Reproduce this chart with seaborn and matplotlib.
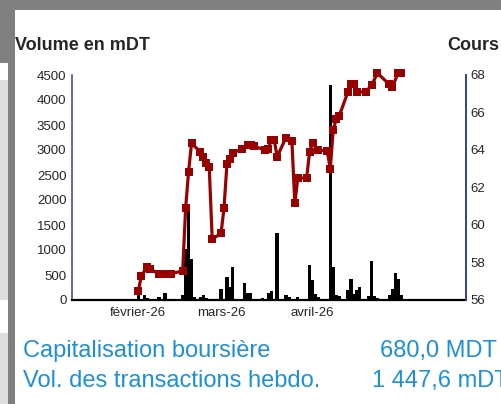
import pandas as pd
import numpy as np
import matplotlib.pyplot as plt
from matplotlib.patches import Rectangle
import seaborn as sns

# Basic configuration
sns.set_style('white')
plt.rcParams['font.family'] = ['Liberation Sans', 'DejaVu Sans']

# --- Data ---
price_dates = ['2026-02-01', '2026-02-02', '2026-02-04', '2026-02-05', '2026-02-08',
               '2026-02-10', '2026-02-12', '2026-02-16', '2026-02-17', '2026-02-18',
               '2026-02-19', '2026-02-22', '2026-02-23', '2026-02-24', '2026-02-25',
               '2026-02-26', '2026-03-01', '2026-03-02', '2026-03-03', '2026-03-04',
               '2026-03-05', '2026-03-08', '2026-03-10', '2026-03-11', '2026-03-12',
               '2026-03-16', '2026-03-17', '2026-03-18', '2026-03-19', '2026-03-20',
               '2026-03-23', '2026-03-25', '2026-03-26', '2026-03-27', '2026-03-30',
               '2026-03-31', '2026-04-01', '2026-04-03', '2026-04-06', '2026-04-07',
               '2026-04-08', '2026-04-09', '2026-04-10', '2026-04-13', '2026-04-14',
               '2026-04-15', '2026-04-16', '2026-04-19', '2026-04-21', '2026-04-23',
               '2026-04-27', '2026-04-28', '2026-04-30', '2026-05-01']
price_values = [56.5, 57.3, 57.75, 57.65, 57.4,
                57.4, 57.4, 57.55, 60.9, 62.85,
                64.35, 63.9, 63.6, 63.3, 63.1,
                59.25, 59.55, 60.9, 63.25, 63.5,
                63.85, 64.05, 64.25, 64.25, 64.2,
                64.0, 64.05, 64.55, 64.55, 63.65,
                64.65, 64.5, 61.15, 62.5, 62.5,
                63.9, 64.35, 64.0, 63.95, 63.0,
                65.05, 65.65, 65.8, 67.1, 67.5,
                67.5, 67.1, 67.1, 67.45, 68.1,
                67.5, 67.35, 68.1, 68.1]

volume_dates = ['2026-02-01', '2026-02-03', '2026-02-04', '2026-02-08', '2026-02-10',
                '2026-02-11', '2026-02-16', '2026-02-17', '2026-02-18', '2026-02-19',
                '2026-02-20', '2026-02-22', '2026-02-23', '2026-02-24', '2026-02-25',
                '2026-03-01', '2026-03-03', '2026-03-04', '2026-03-05', '2026-03-09',
                '2026-03-10', '2026-03-11', '2026-03-15', '2026-03-17', '2026-03-18',
                '2026-03-20', '2026-03-23', '2026-03-24', '2026-03-27', '2026-03-28',
                '2026-03-31', '2026-04-01', '2026-04-02', '2026-04-03', '2026-04-07',
                '2026-04-08', '2026-04-09', '2026-04-10', '2026-04-13', '2026-04-14',
                '2026-04-15', '2026-04-16', '2026-04-17', '2026-04-20', '2026-04-21',
                '2026-04-22', '2026-04-23', '2026-04-27', '2026-04-28', '2026-04-29',
                '2026-04-30', '2026-05-01']
volume_values = [100, 100, 40, 60, 140,
                 20, 100, 1030, 1900, 830,
                 60, 60, 100, 40, 30,
                 220, 460, 270, 660, 340,
                 140, 140, 40, 140, 180,
                 1340, 100, 60, 60, 30,
                 700, 400, 130, 60, 4300,
                 660, 100, 90, 210, 420,
                 130, 200, 260, 80, 780,
                 80, 50, 100, 220, 540,
                 420, 100]

month_ticks = ['2026-02-01', '2026-03-01', '2026-04-01']
month_labels = ['février-26', 'mars-26', 'avril-26']
volume_ticks = [0, 500, 1000, 1500, 2000, 2500, 3000, 3500, 4000, 4500]
price_ticks = [56, 58, 60, 62, 64, 66, 68]

info_labels = ['Capitalisation boursière', 'Vol. des transactions hebdo.']
info_values = ['680,0 MDT', '1 447,6 mDT']

# --- Figure and page frame ---
W, H = 501, 404
fig = plt.figure(figsize=(W / 100, H / 100), dpi=100)
fig.patch.set_facecolor('white')


def px_rect(x0, y0, x1, y1, color):
    fig.add_artist(Rectangle((x0 / W, 1 - y1 / H), (x1 - x0) / W, (y1 - y0) / H,
                             transform=fig.transFigure, color=color, lw=0, zorder=0))


px_rect(0, 0, W, 10, '#808080')
px_rect(0, 0, 15, 63, '#808080')
px_rect(8, 63, 15, H, '#808080')
px_rect(0, 80, 8, 300, '#dedede')
px_rect(0, 333, 8, H, '#dedede')

# --- Chart ---
ax = fig.add_axes([72 / W, 1 - 300 / H, (466 - 72) / W, (300 - 75) / H])
ax2 = ax.twinx()

ax.bar(pd.to_datetime(volume_dates), volume_values, width=1.1, color='black', linewidth=0)
sns.lineplot(x=pd.to_datetime(price_dates), y=price_values, ax=ax2, color='#990000',
             linewidth=2.3, marker='s', markersize=5.2, markeredgewidth=0, clip_on=False)

start = pd.Timestamp('2026-02-01')
ax.set_xlim(start - pd.Timedelta(days=22.5), start + pd.Timedelta(days=111))
ax.set_ylim(0, 4500)
ax2.set_ylim(56, 68)

ax.set_xticks(pd.to_datetime(month_ticks))
ax.set_xticklabels(month_labels)
ax.set_yticks(volume_ticks)
ax2.set_yticks(price_ticks)
ax.tick_params(axis='x', length=0, pad=5, labelsize=9.5)
ax.tick_params(axis='y', length=0, pad=4, labelsize=9.5)
ax2.tick_params(axis='y', length=0, pad=3.5, labelsize=9.5)
ax2.set_xlabel('')
ax2.set_ylabel('')

for a in (ax, ax2):
    a.spines['top'].set_visible(False)
ax.spines['right'].set_visible(False)
ax2.spines['left'].set_visible(False)
ax2.spines['bottom'].set_visible(False)
ax.spines['left'].set_color('#36428a')
ax.spines['left'].set_linewidth(1.1)
ax2.spines['right'].set_color('#36428a')
ax2.spines['right'].set_linewidth(1.4)
ax.spines['bottom'].set_color('black')
ax.spines['bottom'].set_linewidth(1.6)

# --- Texts ---
fig.text(15 / W, 1 - 49.5 / H, 'Volume en mDT', fontsize=13, fontweight='bold',
         ha='left', va='baseline')
fig.text(447 / W, 1 - 49.5 / H, 'Cours', fontsize=13, fontweight='bold',
         ha='left', va='baseline')

blue = '#1e90d6'
fig.text(23 / W, 1 - 357 / H, info_labels[0], fontsize=17, color=blue, va='baseline')
fig.text(380 / W, 1 - 357 / H, info_values[0], fontsize=17, color=blue, va='baseline')
fig.text(23 / W, 1 - 387 / H, info_labels[1], fontsize=17, color=blue, va='baseline')
fig.text(372 / W, 1 - 387 / H, info_values[1], fontsize=17, color=blue, va='baseline')

plt.savefig('out.png', dpi=100)
